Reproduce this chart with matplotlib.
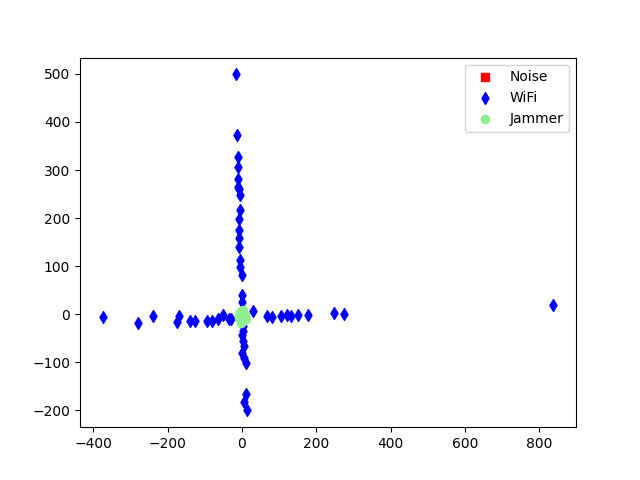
import matplotlib
matplotlib.use("Agg")
import matplotlib.pyplot as plt

noise_x = [0, 2, -2]
noise_y = [-5, -3, -8]

wifi_x = [-15, -12, -10, -10, -10, -10, -7, -5, -5, -7, -7, -7, -7, -5, -5, 0, 0, 0,
          -34, 30, 2, 3, 0, 4, 5, 0, 6, 11, 11, 5, 14,
          -375, -279, -238, -169, -174, -141, -125, -93, -80, -64, -50, -29,
          68, 82, 106, 120, 133, 152, 179, 248, 274, 838]
wifi_y = [499, 373, 328, 306, 281, 265, 260, 248, 217, 199, 175, 158, 140, 112, 99, 81, 40, 26,
          -9, 6, -25, -35, -44, -55, -65, -81, -90, -102, -165, -183, -200,
          -6, -19, -4, -4, -17, -13, -13, -13, -13, -9, -2, -9,
          -4, -6, -4, -2, -4, -2, -2, 2, 0, 19]

jam_x = [0, 5, -5, 3, -3, 8, -8, 4, -2, 10, 0, -6]
jam_y = [0, -5, 5, 8, -10, -2, -6, -15, -18, -10, -12, 2]

fig, ax = plt.subplots(figsize=(6.4, 4.8), dpi=100)
ax.scatter(noise_x, noise_y, c='red', marker='s', label='Noise')
ax.scatter(wifi_x, wifi_y, c='blue', marker='d', label='WiFi')
ax.scatter(jam_x, jam_y, c='lightgreen', marker='o', label='Jammer')
ax.legend(loc='upper right')
fig.savefig('out.png')
